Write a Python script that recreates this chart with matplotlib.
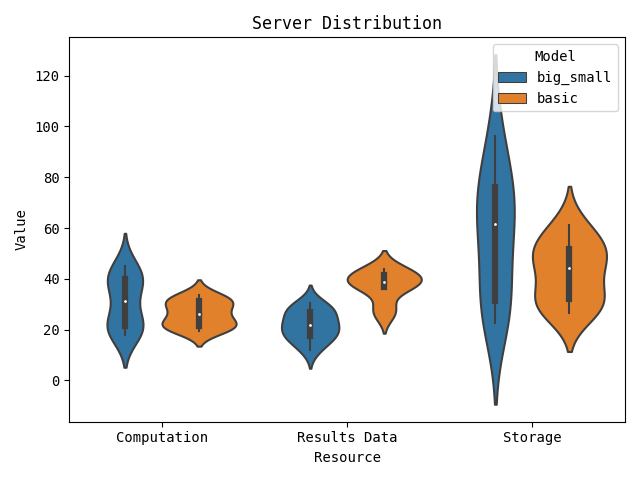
import matplotlib
matplotlib.use("Agg")
import matplotlib.pyplot as plt
import numpy as np

plt.rcParams['font.family'] = ['DejaVu Sans Mono', 'DejaVu Sans']

resources = ["Computation", "Results Data", "Storage"]
models = ["big_small", "basic"]
colors = ["#3274a1", "#e1812c"]
gray = "#3f3f3f"

computation_big_small = [17.9, 19.5, 21, 21.5, 24, 31.2, 37, 39, 40.5, 42, 45.2]
computation_basic = [19.6, 20.5, 21, 21.8, 23, 25, 27, 28.5, 31, 31.5, 32, 33.5]
results_big_small = [11.8, 15.5, 17, 17.5, 20, 21, 22.5, 23.5, 26.5, 28, 28.3, 30.5]
results_basic = [26, 28.5, 36.9, 36.9, 38, 39.2, 40, 42, 43, 43.7]
storage_big_small = [22.7, 31, 31.3, 50, 61.6, 66, 76.1, 77, 96.1]
storage_basic = [26.6, 29, 31.5, 33, 42, 46.2, 49, 52.5, 55, 61.2]

values = [
    [computation_big_small, computation_basic],
    [results_big_small, results_basic],
    [storage_big_small, storage_basic],
]

lw = 1.5
width = 0.8
dwidth = width / (len(models) * 2)
offsets = np.array([-width / 4, width / 4])


def kde(data, cut=2, gridsize=100):
    data = np.asarray(data, float)
    n = len(data)
    bw = n ** (-1 / 5) * data.std(ddof=1)
    support = np.linspace(data.min() - cut * bw, data.max() + cut * bw, gridsize)
    dens = np.exp(-0.5 * ((support[:, None] - data[None, :]) / bw) ** 2).sum(1)
    dens /= n * bw * np.sqrt(2 * np.pi)
    return support, dens


fig, ax = plt.subplots(figsize=(6.4, 4.8), dpi=100)

for i, group in enumerate(values):
    kdes = [kde(d) for d in group]
    gmax = max(k[1].max() for k in kdes)
    for j, d in enumerate(group):
        support, dens = kdes[j]
        dens = dens / gmax
        center = i + offsets[j]
        ax.fill_betweenx(support, center - dens * dwidth, center + dens * dwidth,
                         facecolor=colors[j], edgecolor=gray, linewidth=lw)
        arr = np.asarray(d, float)
        q25, q50, q75 = np.percentile(arr, [25, 50, 75])
        wl = 1.5 * (q75 - q25)
        h1 = arr[arr >= q25 - wl].min()
        h2 = arr[arr <= q75 + wl].max()
        ax.plot([center, center], [h1, h2], linewidth=lw, color=gray)
        ax.plot([center, center], [q25, q75], linewidth=lw * 3, color=gray)
        ax.scatter(center, q50, zorder=3, color="white", edgecolor=gray,
                   s=np.square(lw * 2))

for j, m in enumerate(models):
    rect = plt.Rectangle((0, 0), 0, 0, linewidth=lw / 2, edgecolor=gray,
                         facecolor=colors[j], label=m)
    ax.add_patch(rect)

ax.set_xticks(range(len(resources)))
ax.set_xticklabels(resources)
ax.set_xlim(-0.5, len(resources) - 0.5)
ax.set_title("Server Distribution")
ax.set_xlabel("Resource")
ax.set_ylabel("Value")
ax.legend(title="Model", loc="upper right")
fig.tight_layout()
fig.savefig("out.png")
